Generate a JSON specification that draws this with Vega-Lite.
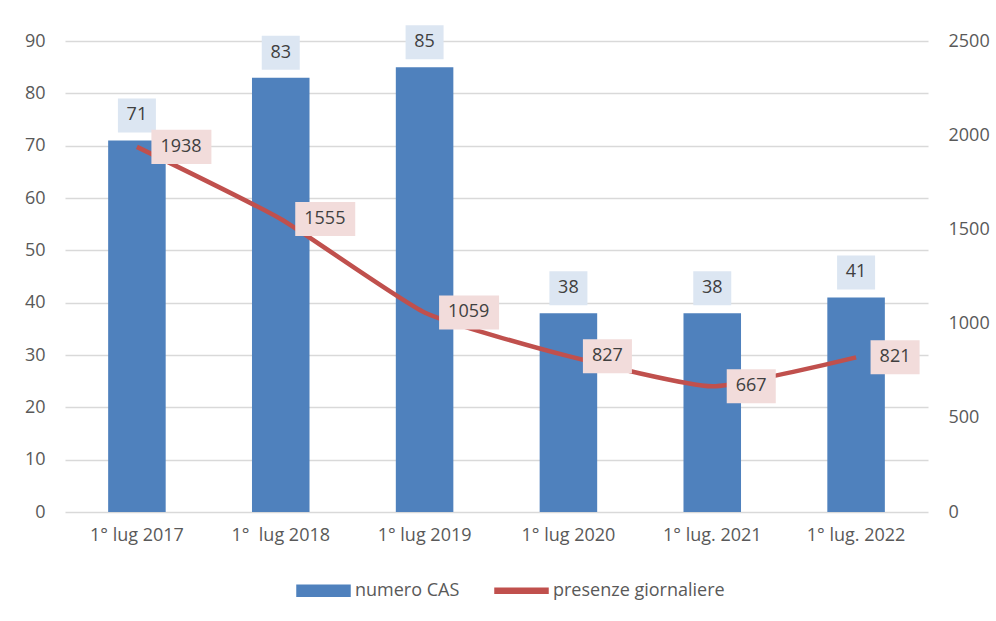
{
  "$schema": "https://vega.github.io/schema/vega-lite/v6.json",
  "width": 863,
  "height": 471,
  "autosize": {"type": "none"},
  "padding": {"left": 65, "top": 41, "right": 68, "bottom": 109},
  "background": "white",
  "config": {
    "view": {"stroke": null},
    "font": "Open Sans"
  },
  "data": {
    "values": [
      {"data": "1° lug 2017", "cas": 71, "pres": 1938},
      {"data": "1°\u00a0 lug 2018", "cas": 83, "pres": 1555},
      {"data": "1° lug 2019", "cas": 85, "pres": 1059},
      {"data": "1° lug 2020", "cas": 38, "pres": 827},
      {"data": "1° lug. 2021", "cas": 38, "pres": 667},
      {"data": "1° lug. 2022", "cas": 41, "pres": 821}
    ]
  },
  "encoding": {
    "x": {
      "field": "data",
      "type": "nominal",
      "sort": null,
      "scale": {"paddingInner": 0.6, "paddingOuter": 0.3},
      "axis": {
        "title": null,
        "labelAngle": 0,
        "ticks": false,
        "domain": false,
        "labelFontSize": 18,
        "labelColor": "#595959",
        "labelPadding": 14
      }
    }
  },
  "layer": [
    {
      "encoding": {
        "y": {
          "field": "cas",
          "type": "quantitative",
          "scale": {"domain": [0, 90], "nice": false},
          "axis": {
            "orient": "left",
            "title": null,
            "values": [0, 10, 20, 30, 40, 50, 60, 70, 80, 90],
            "grid": true,
            "gridColor": "#D9D9D9",
            "gridWidth": 1.5,
            "domain": false,
            "ticks": false,
            "labelFontSize": 18,
            "labelColor": "#595959",
            "labelPadding": 20
          }
        }
      },
      "layer": [
        {
          "mark": {"type": "bar"},
          "encoding": {
            "color": {
              "datum": "numero CAS",
              "scale": {
                "domain": ["numero CAS", "presenze giornaliere"],
                "range": ["#4F81BD", "#C0504D"]
              },
              "legend": {
                "orient": "none",
                "legendX": 231,
                "legendY": 522,
                "direction": "horizontal",
                "title": null,
                "labelFontSize": 18,
                "labelColor": "#595959",
                "labelLimit": 400,
                "symbolSize": 2809,
                "columnPadding": 32,
                "labelOffset": 4,
                "padding": 0,
                "symbolType": "M-1,-0.21L1,-0.21L1,0.21L-1,0.21Z",
                "encode": {
                  "symbols": {
                    "update": {
                      "shape": {"signal": "datum.value === 'numero CAS' ? 'M-1,-0.21L1,-0.21L1,0.21L-1,0.21Z' : 'M-1,-0.094L1,-0.094L1,0.094L-1,0.094Z'"},
                      "fill": {"signal": "datum.value === 'numero CAS' ? '#4F81BD' : '#C0504D'"},
                      "stroke": {"value": "transparent"},
                      "opacity": {"value": 1}
                    }
                  }
                }
              }
            }
          }
        },
        {
          "mark": {
            "type": "point",
            "shape": "M-1,-0.895L1,-0.895L1,0.895L-1,0.895Z",
            "size": 1444,
            "filled": true,
            "color": "#DCE6F2",
            "opacity": 1,
            "yOffset": -25
          }
        },
        {
          "mark": {"type": "text", "dy": -25, "fontSize": 18, "color": "#404040", "baseline": "middle"},
          "encoding": {"text": {"field": "cas", "type": "quantitative"}}
        }
      ]
    },
    {
      "encoding": {
        "y": {
          "field": "pres",
          "type": "quantitative",
          "scale": {"domain": [0, 2500], "nice": false},
          "axis": {
            "orient": "right",
            "title": null,
            "values": [0, 500, 1000, 1500, 2000, 2500],
            "format": "d",
            "grid": false,
            "domain": false,
            "ticks": false,
            "labelFontSize": 18,
            "labelColor": "#595959",
            "labelPadding": 20
          }
        }
      },
      "layer": [
        {
          "mark": {"type": "line", "strokeWidth": 4.5, "interpolate": "cardinal", "tension": 0.5},
          "encoding": {"color": {"datum": "presenze giornaliere"}}
        },
        {
          "mark": {"type": "point", "size": 3600, "filled": true, "color": "#F2DCDB", "opacity": 1},
          "encoding": {
            "shape": {
              "condition": {"test": "datum.pres >= 1000", "value": "M0.483,-0.567L2.483,-0.567L2.483,0.567L0.483,0.567Z"},
              "value": "M0.483,-0.567L2.117,-0.567L2.117,0.567L0.483,0.567Z"
            }
          }
        },
        {
          "mark": {"type": "text", "align": "left", "dx": 23.5, "fontSize": 18, "color": "#404040", "baseline": "middle"},
          "encoding": {"text": {"field": "pres", "type": "quantitative", "format": "d"}}
        }
      ]
    }
  ],
  "resolve": {"scale": {"y": "independent"}}
}
